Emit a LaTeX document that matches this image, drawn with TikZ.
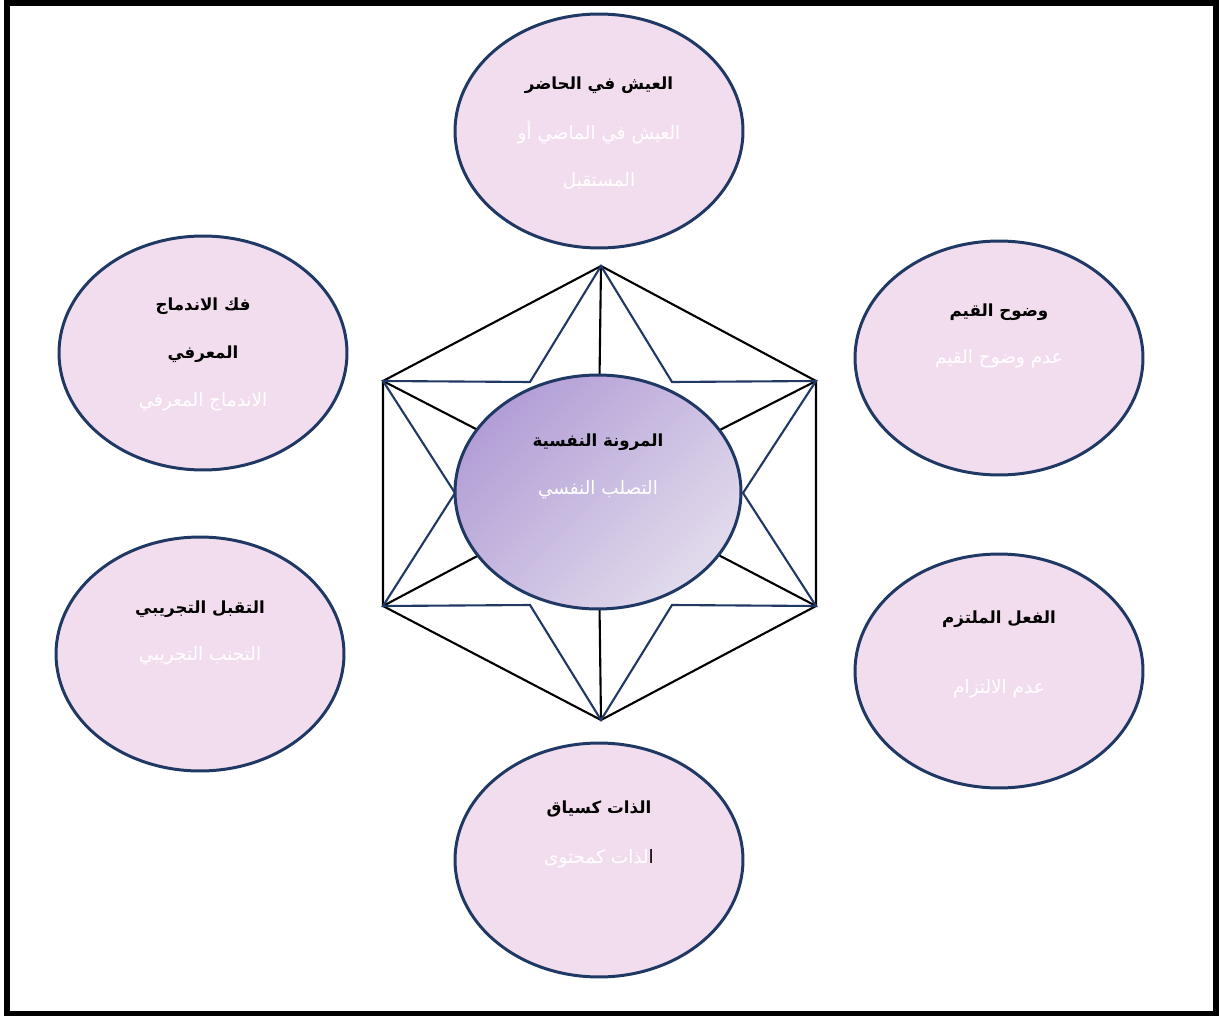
\documentclass[tikz,border=0pt]{standalone}
\usepackage{fontspec}
\usetikzlibrary{shapes.geometric}
\newfontfamily\arabicfont[Script=Arabic]{DejaVu Sans}
\TeXXeTstate=1
\definecolor{navy}{RGB}{31,56,100}
\definecolor{facetfill}{RGB}{242,221,238}
\definecolor{coretop}{RGB}{178,158,214}
\definecolor{corebot}{RGB}{226,219,236}
\definecolor{selblue}{RGB}{0,170,240}
\begin{document}
\begin{tikzpicture}[x=0.02cm, y=-0.02cm,
		every node/.style={inner sep=0pt},
		facet/.style={ellipse, draw=navy, line width=1.7pt, fill=facetfill, minimum width=5.76cm, minimum height=4.68cm},
		core/.style={ellipse, draw=navy, line width=1.7pt, minimum width=5.72cm, minimum height=4.68cm, top color=coretop, bottom color=corebot, shading angle=45},
		poslbl/.style={font=\arabicfont\bfseries\fontsize{9.5}{11}\selectfont, text=black},
		neglbl/.style={font=\arabicfont\fontsize{10.5}{12}\selectfont, text=white},
		hexline/.style={black, line width=1.2pt},
		starline/.style={navy, line width=1.2pt, line join=miter}]

	\useasboundingbox (0,0) rectangle (1219,1016);
	\draw[line width=0.12cm] (7,3) rectangle (1215.5,1013.5);

	% hexagon corners, star notches, centre
	\coordinate (T) at (601,266);
	\coordinate (UR) at (816,381);
	\coordinate (LR) at (816,606);
	\coordinate (B) at (601,720);
	\coordinate (LL) at (383,606);
	\coordinate (UL) at (383,381);
	\coordinate (n1) at (672,382);
	\coordinate (n2) at (743,493);
	\coordinate (n3) at (672,605);
	\coordinate (n4) at (530,605);
	\coordinate (n5) at (455,493);
	\coordinate (n6) at (530,382);
	\coordinate (mid) at (598,492);

	\draw[hexline] (T) -- (UR) -- (LR) -- (B) -- (LL) -- (UL) -- cycle;
	\foreach \v in {T,UR,LR,B,LL,UL}
		\draw[hexline] (\v) -- (mid);
	\draw[starline] (T) -- (n1) -- (UR) -- (n2) -- (LR) -- (n3) -- (B) -- (n4) -- (LL) -- (n5) -- (UL) -- (n6) -- cycle;

	\node[core] (flex) at (mid) {};
	\node[poslbl] (flexa) at (598,442) {\beginR المرونة النفسية\endR};
	\node[neglbl] (flexb) at (598,490) {\beginR التصلب النفسي\endR};

	\node[facet] (present) at (599,131) {};
	\node[poslbl] (presenta) at (599,85) {\beginR العيش في الحاضر\endR};
	\node[neglbl] (presentb) at (599,133) {\beginR العيش في الماضي أو\endR};
	\node[neglbl] (presentc) at (599,181) {\beginR المستقبل\endR};

	\node[facet] (defusion) at (203,353) {};
	\node[poslbl] (defusiona) at (203,306) {\beginR فك الاندماج\endR};
	\node[poslbl] (defusionb) at (203,354) {\beginR المعرفي\endR};
	\node[neglbl] (defusionc) at (203,402) {\beginR الاندماج المعرفي\endR};

	\node[facet] (values) at (999,358) {};
	\node[poslbl] (valuesa) at (999,312) {\beginR وضوح القيم\endR};
	\node[neglbl] (valuesb) at (999,359) {\beginR عدم وضوح القيم\endR};

	\node[facet] (accept) at (200,654) {};
	\node[poslbl] (accepta) at (200,609) {\beginR التقبل التجريبي\endR};
	\node[neglbl] (acceptb) at (200,656) {\beginR التجنب التجريبي\endR};

	\node[facet] (action) at (999,671) {};
	\node[poslbl] (actiona) at (999,619) {\beginR الفعل الملتزم\endR};
	\node[neglbl] (actionb) at (999,689) {\beginR عدم الالتزام\endR};

	\node[facet] (self) at (599,860) {};
	\node[poslbl] (selfa) at (599,809) {\beginR الذات كسياق\endR};
	\node[neglbl] (selfb) at (599,859) {\beginR{\color{selblue}ا}لذات كمحتوى\endR};
\end{tikzpicture}
\end{document}
